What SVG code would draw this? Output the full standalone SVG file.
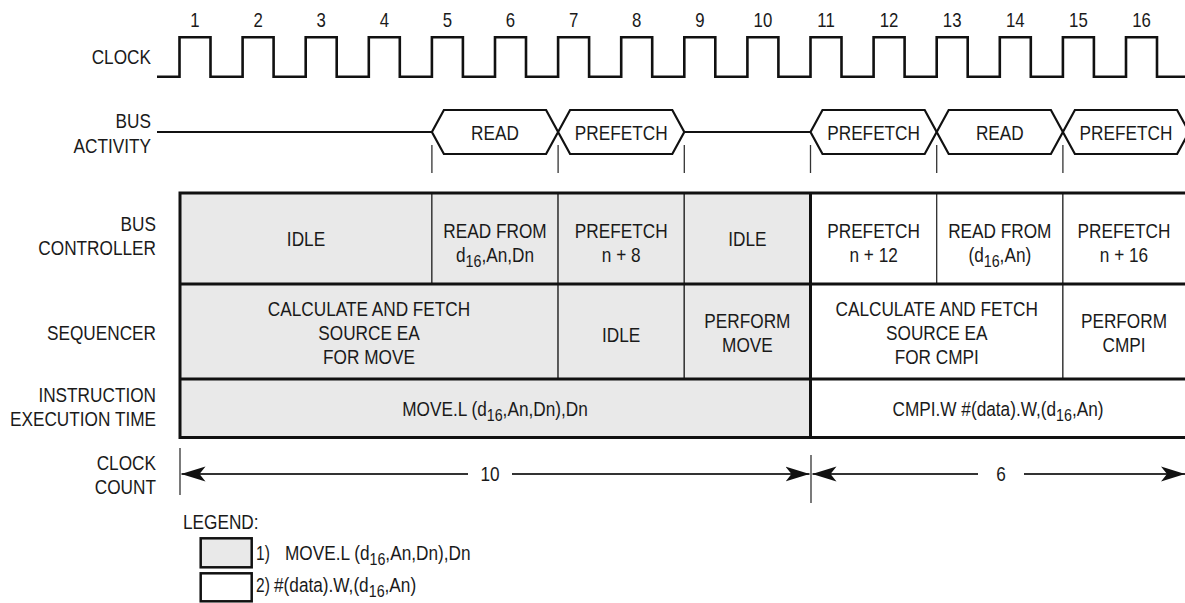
<svg xmlns="http://www.w3.org/2000/svg" width="1185" height="603" viewBox="0 0 1185 603">
<defs>
<style>
text{font-family:"Liberation Sans",Arial,sans-serif;font-size:20.5px;fill:#1a1a1a}
.c{text-anchor:middle}
.r{text-anchor:end}
.num{font-size:20px}
.sub{font-size:17px}
.wave{fill:none;stroke:#111;stroke-width:2.6;stroke-linejoin:miter}
.bus{fill:#fff;stroke:#111;stroke-width:2.2}
.busline{fill:none;stroke:#111;stroke-width:2.2}
.tick{stroke:#333;stroke-width:1.3}
.g{fill:#e9e9e9;stroke:#333;stroke-width:1.3}
.w{fill:#fff;stroke:#333;stroke-width:1.3}
.thick{fill:none;stroke:#111;stroke-width:3}
.arr{stroke:#333;stroke-width:2;fill:none}
.lg{stroke:#111;stroke-width:2.5}
</style>
<marker id="ah" markerUnits="userSpaceOnUse" markerWidth="24" markerHeight="16" refX="24" refY="8" orient="auto-start-reverse">
<path d="M0,0.5 L24,8 L0,15.5 L6,8 Z" fill="#111"/>
</marker>
</defs>

<g id="row-labels">
<text class="r" transform="translate(151,64) scale(0.84,1)">CLOCK</text>
<text class="r" transform="translate(151,128) scale(0.84,1)">BUS</text>
<text class="r" transform="translate(151,153) scale(0.84,1)">ACTIVITY</text>
<text class="r" transform="translate(156,230.5) scale(0.84,1)">BUS</text>
<text class="r" transform="translate(156,255) scale(0.84,1)">CONTROLLER</text>
<text class="r" transform="translate(156,340) scale(0.84,1)">SEQUENCER</text>
<text class="r" transform="translate(156,402) scale(0.84,1)">INSTRUCTION</text>
<text class="r" transform="translate(156,426) scale(0.84,1)">EXECUTION TIME</text>
<text class="r" transform="translate(156,470) scale(0.84,1)">CLOCK</text>
<text class="r" transform="translate(156,494) scale(0.84,1)">COUNT</text>
</g>

<g id="clock-numbers">
<text class="c num" transform="translate(195,27) scale(0.84,1)">1</text>
<text class="c num" transform="translate(258.1,27) scale(0.84,1)">2</text>
<text class="c num" transform="translate(321.2,27) scale(0.84,1)">3</text>
<text class="c num" transform="translate(384.3,27) scale(0.84,1)">4</text>
<text class="c num" transform="translate(447.4,27) scale(0.84,1)">5</text>
<text class="c num" transform="translate(510.5,27) scale(0.84,1)">6</text>
<text class="c num" transform="translate(573.6,27) scale(0.84,1)">7</text>
<text class="c num" transform="translate(636.7,27) scale(0.84,1)">8</text>
<text class="c num" transform="translate(699.8,27) scale(0.84,1)">9</text>
<text class="c num" transform="translate(762.9,27) scale(0.84,1)">10</text>
<text class="c num" transform="translate(826,27) scale(0.84,1)">11</text>
<text class="c num" transform="translate(889.1,27) scale(0.84,1)">12</text>
<text class="c num" transform="translate(952.2,27) scale(0.84,1)">13</text>
<text class="c num" transform="translate(1015.3,27) scale(0.84,1)">14</text>
<text class="c num" transform="translate(1078.4,27) scale(0.84,1)">15</text>
<text class="c num" transform="translate(1141.5,27) scale(0.84,1)">16</text>
</g>

<g id="clock">
<path class="wave" d="M157,76.7 H179.5 V37.3 H210.5 V76.7 H242.6 V37.3 H273.6 V76.7 H305.7 V37.3 H336.7 V76.7 H368.8 V37.3 H399.8 V76.7 H431.9 V37.3 H462.9 V76.7 H495 V37.3 H526 V76.7 H558.1 V37.3 H589.1 V76.7 H621.2 V37.3 H652.2 V76.7 H684.3 V37.3 H715.3 V76.7 H747.4 V37.3 H778.4 V76.7 H810.5 V37.3 H841.5 V76.7 H873.6 V37.3 H904.6 V76.7 H936.7 V37.3 H967.7 V76.7 H999.8 V37.3 H1030.8 V76.7 H1062.9 V37.3 H1093.9 V76.7 H1126 V37.3 H1157 V76.7 H1190"/>
</g>

<g id="bus-activity">
<path class="busline" d="M157,132 H431.9 M684.3,132 H810.5"/>
<g id="bus-read-1">
<polygon class="bus" points="431.9,132 443.9,110 546.1,110 558.1,132 546.1,154 443.9,154"/>
<text class="c" transform="translate(495,139.5) scale(0.84,1)">READ</text>
</g>
<g id="bus-prefetch-1">
<polygon class="bus" points="558.1,132 570.1,110 672.3,110 684.3,132 672.3,154 570.1,154"/>
<text class="c" transform="translate(621.2,139.5) scale(0.84,1)">PREFETCH</text>
</g>
<g id="bus-prefetch-2">
<polygon class="bus" points="810.5,132 822.5,110 924.7,110 936.7,132 924.7,154 822.5,154"/>
<text class="c" transform="translate(873.6,139.5) scale(0.84,1)">PREFETCH</text>
</g>
<g id="bus-read-2">
<polygon class="bus" points="936.7,132 948.7,110 1050.9,110 1062.9,132 1050.9,154 948.7,154"/>
<text class="c" transform="translate(999.8,139.5) scale(0.84,1)">READ</text>
</g>
<g id="bus-prefetch-3">
<polygon class="bus" points="1062.9,132 1074.9,110 1177.1,110 1189.1,132 1177.1,154 1074.9,154"/>
<text class="c" transform="translate(1126,139.5) scale(0.84,1)">PREFETCH</text>
</g>
</g>

<g id="bus-ticks">
<line class="tick" x1="431.9" y1="145" x2="431.9" y2="173"/>
<line class="tick" x1="558.1" y1="145" x2="558.1" y2="173"/>
<line class="tick" x1="684.3" y1="145" x2="684.3" y2="173"/>
<line class="tick" x1="810.5" y1="145" x2="810.5" y2="173"/>
<line class="tick" x1="936.7" y1="145" x2="936.7" y2="173"/>
<line class="tick" x1="1062.9" y1="145" x2="1062.9" y2="173"/>
</g>

<g id="bus-controller">
<g id="bc-idle-1"><rect class="g" x="180" y="193" width="251.9" height="91"/><text class="c" transform="translate(306,246) scale(0.84,1)">IDLE</text></g>
<g id="bc-read-1"><rect class="g" x="431.9" y="193" width="126.2" height="91"/><text class="c" transform="translate(495,237.5) scale(0.84,1)">READ FROM</text><text class="c" transform="translate(495,261.5) scale(0.84,1)">d<tspan class="sub" dy="5">16</tspan><tspan dy="-5">,An,Dn</tspan></text></g>
<g id="bc-prefetch-8"><rect class="g" x="558.1" y="193" width="126.2" height="91"/><text class="c" transform="translate(621.2,237.5) scale(0.84,1)">PREFETCH</text><text class="c" transform="translate(621.2,261.5) scale(0.84,1)">n + 8</text></g>
<g id="bc-idle-2"><rect class="g" x="684.3" y="193" width="126.2" height="91"/><text class="c" transform="translate(747.4,246) scale(0.84,1)">IDLE</text></g>
<g id="bc-prefetch-12"><rect class="w" x="810.5" y="193" width="126.2" height="91"/><text class="c" transform="translate(873.6,237.5) scale(0.84,1)">PREFETCH</text><text class="c" transform="translate(873.6,261.5) scale(0.84,1)">n + 12</text></g>
<g id="bc-read-2"><rect class="w" x="936.7" y="193" width="126.2" height="91"/><text class="c" transform="translate(999.8,237.5) scale(0.84,1)">READ FROM</text><text class="c" transform="translate(999.8,261.5) scale(0.84,1)">(d<tspan class="sub" dy="5">16</tspan><tspan dy="-5">,An)</tspan></text></g>
<g id="bc-prefetch-16"><rect class="w" x="1062.9" y="193" width="130" height="91"/><text class="c" transform="translate(1124,237.5) scale(0.84,1)">PREFETCH</text><text class="c" transform="translate(1124,261.5) scale(0.84,1)">n + 16</text></g>
</g>

<g id="sequencer">
<g id="sq-calc-move"><rect class="g" x="180" y="284" width="378.1" height="95"/><text class="c" transform="translate(369,316) scale(0.84,1)">CALCULATE AND FETCH</text><text class="c" transform="translate(369,340) scale(0.84,1)">SOURCE EA</text><text class="c" transform="translate(369,364) scale(0.84,1)">FOR MOVE</text></g>
<g id="sq-idle"><rect class="g" x="558.1" y="284" width="126.2" height="95"/><text class="c" transform="translate(621.2,342) scale(0.84,1)">IDLE</text></g>
<g id="sq-perform-move"><rect class="g" x="684.3" y="284" width="126.2" height="95"/><text class="c" transform="translate(747.4,328) scale(0.84,1)">PERFORM</text><text class="c" transform="translate(747.4,352) scale(0.84,1)">MOVE</text></g>
<g id="sq-calc-cmpi"><rect class="w" x="810.5" y="284" width="252.4" height="95"/><text class="c" transform="translate(936.7,316) scale(0.84,1)">CALCULATE AND FETCH</text><text class="c" transform="translate(936.7,340) scale(0.84,1)">SOURCE EA</text><text class="c" transform="translate(936.7,364) scale(0.84,1)">FOR CMPI</text></g>
<g id="sq-perform-cmpi"><rect class="w" x="1062.9" y="284" width="130" height="95"/><text class="c" transform="translate(1124,328) scale(0.84,1)">PERFORM</text><text class="c" transform="translate(1124,352) scale(0.84,1)">CMPI</text></g>
</g>

<g id="instruction-time">
<g id="it-move"><rect class="g" x="180" y="379" width="630.5" height="58.5"/><text class="c" transform="translate(495,416) scale(0.84,1)">MOVE.L (d<tspan class="sub" dy="5">16</tspan><tspan dy="-5">,An,Dn),Dn</tspan></text></g>
<g id="it-cmpi"><rect class="w" x="810.5" y="379" width="382" height="58.5"/><text class="c" transform="translate(998,416) scale(0.84,1)">CMPI.W #(data).W,(d<tspan class="sub" dy="5">16</tspan><tspan dy="-5">,An)</tspan></text></g>
</g>

<g id="table-frame">
<rect class="thick" x="180" y="193" width="1012" height="244.5"/>
<line class="thick" x1="180" y1="284" x2="1192" y2="284"/>
<line class="thick" x1="180" y1="379" x2="1192" y2="379"/>
<line class="thick" x1="810.5" y1="193" x2="810.5" y2="437.5"/>
</g>

<g id="connectors">
<line class="tick" x1="180" y1="448" x2="180" y2="495"/>
<line class="tick" x1="811" y1="455" x2="811" y2="503"/>
<line class="arr" x1="181.5" y1="474" x2="468" y2="474" marker-start="url(#ah)"/>
<line class="arr" x1="512" y1="474" x2="809.5" y2="474" marker-end="url(#ah)"/>
<line class="arr" x1="812.5" y1="474" x2="978" y2="474" marker-start="url(#ah)"/>
<line class="arr" x1="1024" y1="474" x2="1185" y2="474" marker-end="url(#ah)"/>
</g>

<g id="clock-count-labels">
<text class="c" transform="translate(490,481) scale(0.84,1)">10</text>
<text class="c" transform="translate(1001,481) scale(0.84,1)">6</text>
</g>

<g id="legend">
<text transform="translate(183,529) scale(0.84,1)">LEGEND:</text>
<rect class="lg" x="200.7" y="538.3" width="51" height="29" fill="#e9e9e9"/>
<rect class="lg" x="200.7" y="573.3" width="51" height="28" fill="#fff"/>
<text transform="translate(256,560) scale(0.76,1)">1)</text>
<text transform="translate(285,560) scale(0.84,1)">MOVE.L (d<tspan class="sub" dy="5">16</tspan><tspan dy="-5">,An,Dn),Dn</tspan></text>
<text transform="translate(256,592) scale(0.76,1)">2)</text>
<text transform="translate(274,592) scale(0.84,1)">#(data).W,(d<tspan class="sub" dy="5">16</tspan><tspan dy="-5">,An)</tspan></text>
</g>
</svg>
